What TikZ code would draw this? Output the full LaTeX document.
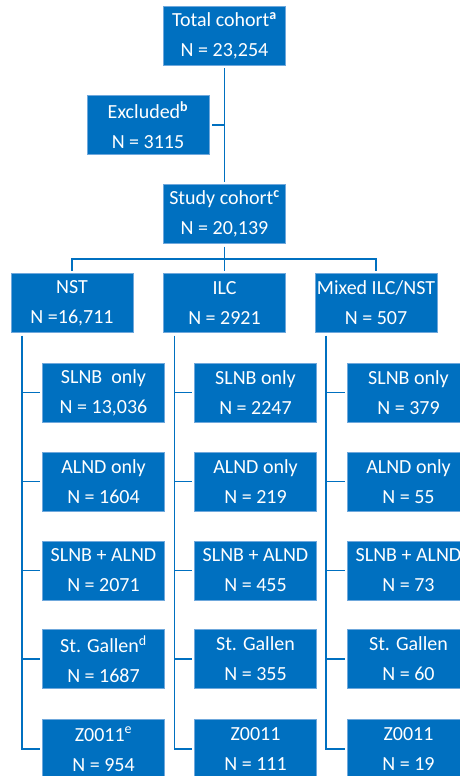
\documentclass[tikz,border=0pt]{standalone}
\usepackage{fontspec}
\setmainfont{Carlito}
\usetikzlibrary{calc}
\definecolor{boxblue}{HTML}{0070C0}
\definecolor{edgeblue}{HTML}{6FA8DC}
\begin{document}
\begin{tikzpicture}[x=1pt,y=-1pt,
  box/.style={fill=boxblue,draw=edgeblue,line width=0.6pt,text=white,
    minimum width=122pt,minimum height=59pt,inner sep=0pt,outer sep=3pt,
    align=center,font=\fontsize{20}{30}\selectfont},
  conn/.style={draw=boxblue,line width=1.6pt}]
\clip (0,0) rectangle (460,776);
\fill[white] (0,0) rectangle (460,776);
\node[box] (total) at (224.5,36) {Total cohort\textsuperscript{\textbf{a}}\\N = 23,254};
\node[box] (excl) at (148,125) {Excluded\textsuperscript{\textbf{b}}\\N = 3115};
\node[box] (study) at (224.5,214) {Study cohort\textsuperscript{\textbf{c}}\\N = 20,139};
\node[box] (nst) at (72,303) {NST\\N =16,711};
\node[box] (ilc) at (224.5,303) {ILC\\N = 2921};
\node[box] (mix) at (376,303) {Mixed ILC/NST\\N = 507};
% NST column
\node[box] (a1) at (103.5,392.5) {SLNB\ \ only\\N = 13,036};
\node[box] (a2) at (103.5,481.5) {ALND only\\N = 1604};
\node[box] (a3) at (103.5,570.5) {SLNB + ALND\\N = 2071};
\node[box] (a4) at (103.5,659) {St. Gallen\textsuperscript{d}\\N = 1687};
\node[box] (a5) at (103.5,749) {Z0011\textsuperscript{e}\\N = 954};
% ILC column
\node[box] (b1) at (255.5,392.5) {SLNB only\\N = 2247};
\node[box] (b2) at (255.5,481.5) {ALND only\\N = 219};
\node[box] (b3) at (255.5,570.5) {SLNB + ALND\\N = 455};
\node[box] (b4) at (255.5,659) {St. Gallen\\N = 355};
\node[box] (b5) at (255.5,749) {Z0011\\N = 111};
% Mixed column
\node[box] (c1) at (408.5,392.5) {SLNB only\\N = 379};
\node[box] (c2) at (408.5,481.5) {ALND only\\N = 55};
\node[box] (c3) at (408.5,570.5) {SLNB + ALND\\N = 73};
\node[box] (c4) at (408.5,659) {St. Gallen\\N = 60};
\node[box] (c5) at (408.5,749) {Z0011\\N = 19};
% connectors
\draw[conn] (total.south) -- (study.north);
\draw[conn] (excl.east) -- (excl.east -| total.south);
\coordinate (hb) at (224.5,259);
\draw[conn] (study.south) -- (hb);
\draw[conn] (nst.north) -- (nst.north |- hb) -- (mix.north |- hb) -- (mix.north);
\draw[conn] (ilc.north) -- (ilc.north |- hb);
\foreach \p/\c in {nst/a,ilc/b,mix/c}{
  \coordinate (v\c) at ([xshift=14pt]\p.south west);
  \draw[conn] (v\c) |- (\c5.west);
  \foreach \i in {1,2,3,4}{
    \draw[conn] (\c\i.west) -- (\c\i.west -| v\c);
  }
}
\end{tikzpicture}
\end{document}
